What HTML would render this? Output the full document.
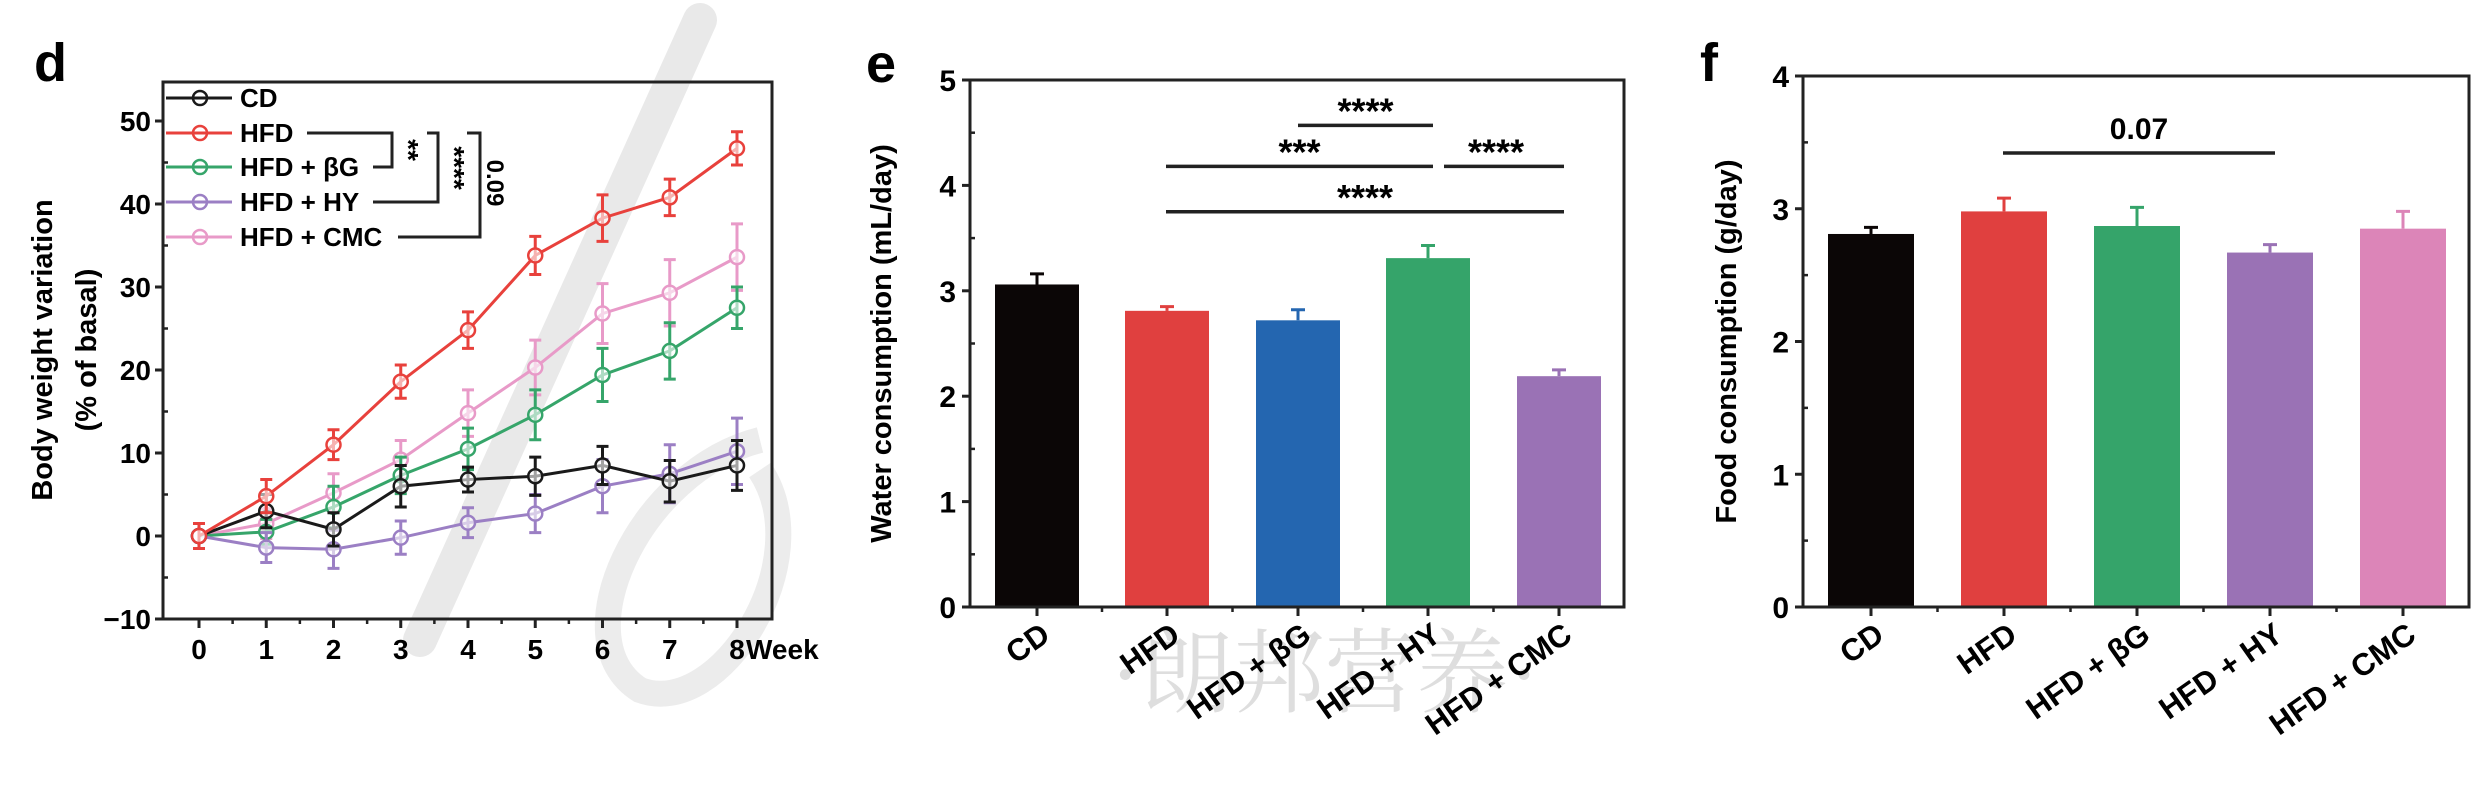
<!DOCTYPE html>
<html><head><meta charset="utf-8"><style>
html,body{margin:0;padding:0;background:#fff;}
svg{display:block;font-family:"Liberation Sans",Arial,sans-serif;font-weight:bold;}
</style></head><body>
<svg id="root" width="2485" height="797" viewBox="0 0 2485 797" xmlns="http://www.w3.org/2000/svg">
<g id="wm">
<path d="M700 20 L420 640" stroke="#e9e9e9" stroke-width="34" fill="none" stroke-linecap="round"/>
<path d="M760 440 C 640 470 560 640 640 690 C 720 720 820 560 760 470" stroke="#ececec" stroke-width="26" fill="none"/>
<text x="1110" y="705" font-family="'Liberation Serif','Noto Serif CJK SC',serif" font-weight="normal" font-size="92" fill="#dedede">·朗邦营养·</text>
</g>
<g id="pd"></g>
<g id="pe"></g>
<g id="pf"></g>
</svg>
<script>
// ---------- Panel d data ----------
const weeks = [0,1,2,3,4,5,6,7,8];
const dGroups = ["CD","HFD","HFD + βG","HFD + HY","HFD + CMC"];
const dColors = ["#1a1a1a","#e8413c","#36a56a","#9b7fc4","#e89ac8"];
const cdVals  = [0,3,0.8,6,6.8,7.2,8.5,6.6,8.5];
const hfdVals = [0,4.8,11,18.6,24.8,33.8,38.3,40.8,46.7];
const bgVals  = [0,0.5,3.5,7.3,10.5,14.6,19.4,22.3,27.5];
const hyVals  = [0,-1.4,-1.6,-0.2,1.6,2.7,6,7.5,10.2];
const cmcVals = [0,1.5,5.2,9.2,14.8,20.3,26.8,29.3,33.6];
const cdErr  = [1.5,2,2,2.5,1.5,2.3,2.3,2.5,3];
const hfdErr = [1.5,2,1.8,2,2.2,2.3,2.8,2.2,2];
const bgErr  = [1.5,1.5,2.5,2.2,2.5,3,3.2,3.4,2.5];
const hyErr  = [1.5,1.8,2.3,2,1.8,2.3,3.2,3.5,4];
const cmcErr = [1.5,1.8,2.3,2.3,2.8,3.3,3.6,4,4];
const dTicks = [-10,0,10,20,30,40,50];
// ---------- Panel e data ----------
const eCats = ["CD","HFD","HFD + βG","HFD + HY","HFD + CMC"];
const eVals = [3.06,2.81,2.72,3.31,2.19];
const eErr  = [0.1,0.04,0.1,0.12,0.06];
const eColors = ["#0b0606","#e0403f","#2466b0","#35a46a","#9a72b5"];
const eTicks = [0,1,2,3,4,5];
const eSig = [[2,3,4.57,"****"],[1,3,4.18,"***"],[3,4,4.18,"****"],[1,4,3.75,"****"]];
// ---------- Panel f data ----------
const fCats = ["CD","HFD","HFD + βG","HFD + HY","HFD + CMC"];
const fVals = [2.81,2.98,2.87,2.67,2.85];
const fErr  = [0.05,0.1,0.14,0.06,0.13];
const fColors = ["#0b0606","#e0403f","#35a46a","#9a72b5","#dc85b8"];
const fTicks = [0,1,2,3,4];
const fSig = [[1,3,3.42,"0.07"]];

const NS="http://www.w3.org/2000/svg";
function mk(parent,tag,attrs,text){const e=document.createElementNS(NS,tag);for(const k in attrs)e.setAttribute(k,attrs[k]);if(text!==undefined)e.textContent=text;parent.appendChild(e);return e;}

// ===== Panel d =====
(function(){
const g=document.getElementById('pd');
const L=163,R=772,T=82,B=619;
const xS=w=>199+w*67.25;
const yS=v=>536-v*8.3;
let t=mk(g,'text',{x:34,y:81,'font-size':54});
t.textContent='d';
let r=mk(g,'rect',{x:L,y:T,width:R-L,height:B-T,fill:'none',stroke:'#222','stroke-width':3});

dTicks.forEach(v=>{
  let tk=mk(g,'line',{x1:L-8,x2:L,y1:yS(v),y2:yS(v),stroke:'#222','stroke-width':3});
  
  let tl=mk(g,'text',{x:L-12,y:yS(v)+10,'text-anchor':'end','font-size':28},v<0?'−'+Math.abs(v):String(v));
  
  if(v<50){let m=mk(g,'line',{x1:L,x2:L+5,y1:yS(v+5),y2:yS(v+5),stroke:'#222','stroke-width':2.5});
  }
});
weeks.forEach(w=>{
  let tk=mk(g,'line',{x1:xS(w),x2:xS(w),y1:B,y2:B+9,stroke:'#222','stroke-width':3});
  
  if(w<8){let m=mk(g,'line',{x1:xS(w+0.5),x2:xS(w+0.5),y1:B,y2:B+5,stroke:'#222','stroke-width':2.5});
  }
  let tl=mk(g,'text',{x:xS(w),y:B+40,'text-anchor':'middle','font-size':28},String(w));
  
});
let wk=mk(g,'text',{x:xS(8)+9,y:B+40,'font-size':28},'Week');

let yt=mk(g,'text',{transform:'translate(52,350) rotate(-90)','text-anchor':'middle','font-size':29},'Body weight variation');

let yt2=mk(g,'text',{transform:'translate(96,350) rotate(-90)','text-anchor':'middle','font-size':29},'(% of basal)');

const series=[cdVals,hfdVals,bgVals,hyVals,cmcVals];
const errs=[cdErr,hfdErr,bgErr,hyErr,cmcErr];
const order=[4,2,3,0,1];
order.forEach(si=>{
  const vals=series[si],er=errs[si],c=dColors[si];
  const sg=mk(g,'g',{});
  
  
  let d=vals.map((v,i)=>(i?'L':'M')+xS(weeks[i])+' '+yS(v)).join(' ');
  let p=mk(sg,'path',{d:d,fill:'none',stroke:c,'stroke-width':3});
  
  vals.forEach((v,i)=>{
    const x=xS(weeks[i]);
    let e=mk(sg,'path',{d:`M${x} ${yS(v-er[i])} L${x} ${yS(v+er[i])} M${x-6} ${yS(v-er[i])} L${x+6} ${yS(v-er[i])} M${x-6} ${yS(v+er[i])} L${x+6} ${yS(v+er[i])}`,stroke:c,'stroke-width':3,fill:'none'});
    
    let m=mk(sg,'circle',{cx:x,cy:yS(v),r:7,fill:'#fff','fill-opacity':0.6,stroke:c,'stroke-width':2.5});
    
  });
});
const rows=[98,133,167,202,237];
dGroups.forEach((n,i)=>{
  const lg=mk(g,'g',{});
  
  mk(lg,'line',{x1:166,x2:232,y1:rows[i],y2:rows[i],stroke:dColors[i],'stroke-width':3});
  mk(lg,'circle',{cx:200,cy:rows[i],r:7,fill:'none',stroke:dColors[i],'stroke-width':2.5});
  mk(lg,'text',{x:240,y:rows[i]+9,'font-size':26},n);
});
const br=mk(g,'path',{d:'M307 133 L392 133 L392 167 L373 167 M427 133 L438 133 L438 202 L373 202 M467 133 L480 133 L480 237 L398 237',fill:'none',stroke:'#222','stroke-width':3});

let s1=mk(g,'text',{transform:'translate(399,150) rotate(90)','text-anchor':'middle','font-size':28},'**');

let s2=mk(g,'text',{transform:'translate(445,168) rotate(90)','text-anchor':'middle','font-size':28},'****');

let s3=mk(g,'text',{transform:'translate(487,183) rotate(90)','text-anchor':'middle','font-size':24},'0.09');

})();

// ===== bar panels =====
function barPanel(id,letter,lx,ly,L,R,T,B,ticks,cats,vals,err,colors,centers,bw,title,tx,sig){
  const g=document.getElementById(id);
  const ymax=ticks[ticks.length-1];
  const yS=v=>B-v*(B-T)/ymax;
  let t=mk(g,'text',{x:lx,y:ly,'font-size':54},letter);
  
  cats.forEach((c,i)=>{
    const x=centers[i];
    let b=mk(g,'rect',{x:x-bw/2,y:yS(vals[i]),width:bw,height:B-yS(vals[i]),fill:colors[i]});
    
    
    let e=mk(g,'path',{d:`M${x} ${yS(vals[i])} L${x} ${yS(vals[i]+err[i])} M${x-7} ${yS(vals[i]+err[i])} L${x+7} ${yS(vals[i]+err[i])}`,stroke:colors[i],'stroke-width':3,fill:'none'});
    
    let tk=mk(g,'line',{x1:x,x2:x,y1:B,y2:B+9,stroke:'#222','stroke-width':3});
    
    let tl=mk(g,'text',{transform:`translate(${x+15},${B+32}) rotate(-35)`,'text-anchor':'end','font-size':31},c);
    
    if(i<cats.length-1){let m=mk(g,'line',{x1:(x+centers[i+1])/2,x2:(x+centers[i+1])/2,y1:B,y2:B+5,stroke:'#222','stroke-width':2.5});
    }
  });
  let r=mk(g,'rect',{x:L,y:T,width:R-L,height:B-T,fill:'none',stroke:'#222','stroke-width':3});
  
  ticks.forEach(v=>{
    let tk=mk(g,'line',{x1:L-8,x2:L,y1:yS(v),y2:yS(v),stroke:'#222','stroke-width':3});
    
    let tl=mk(g,'text',{x:L-14,y:yS(v)+11,'text-anchor':'end','font-size':30},String(v));
    
    if(v<ymax){let m=mk(g,'line',{x1:L,x2:L+5,y1:yS(v+0.5),y2:yS(v+0.5),stroke:'#222','stroke-width':2.5});
    }
  });
  let yt=mk(g,'text',{transform:`translate(${tx},${(T+B)/2}) rotate(-90)`,'text-anchor':'middle','font-size':29},title);
  
  sig.forEach(s=>{
    const x1=centers[s[0]]-(s[0]===1?1:0),x2=centers[s[1]]+5,y=yS(s[2]);
    let ln=mk(g,'line',{x1:x1+(s[0]===3&&s[1]===4?16:0),x2:x2,y1:y,y2:y,stroke:'#222','stroke-width':3.5});
    
    const isStar=s[3].indexOf('*')>=0;
    let st=mk(g,'text',{x:(x1+x2)/2,y:isStar?y-2:y-14,'text-anchor':'middle','font-size':isStar?36:30},s[3]);
    
  });
}
barPanel('pe','e',866,82,970,1624,80,607,eTicks,eCats,eVals,eErr,eColors,[1037,1167,1298,1428,1559],84,'Water consumption (mL/day)',891,eSig);
barPanel('pf','f',1700,81,1803,2469,76,607,fTicks,fCats,fVals,fErr,fColors,[1871,2004,2137,2270,2403],86,'Food consumption (g/day)',1736,fSig);
</script>
</body></html>
